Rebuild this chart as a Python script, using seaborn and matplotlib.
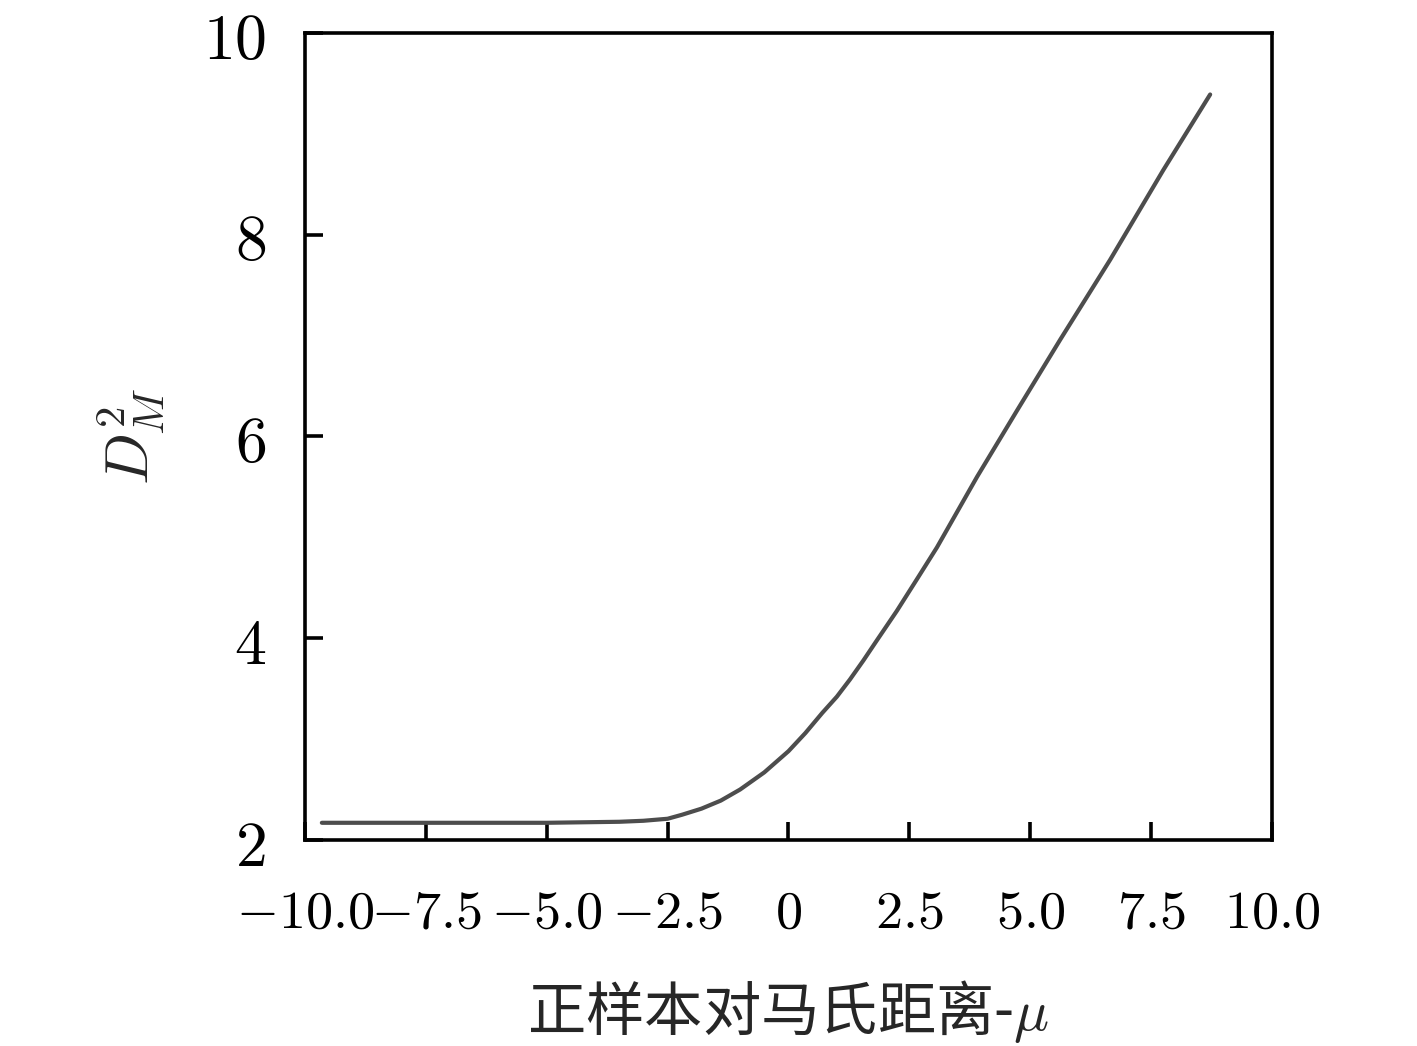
import matplotlib
matplotlib.use('Agg')
import matplotlib.pyplot as plt
import seaborn as sns
import pandas as pd

# values
mu_dist = [-9.65, -7.5, -5.0, -3.5, -3.0, -2.5, -2.2, -1.8, -1.4, -1.0, -0.5, 0.0,
           0.35, 0.7, 1.0, 1.27, 1.55, 1.83, 2.24, 2.65, 3.07, 3.9, 4.73, 5.62,
           6.65, 7.75, 8.72]
d_m2 = [2.17, 2.17, 2.17, 2.18, 2.19, 2.21, 2.25, 2.31, 2.39, 2.50, 2.67, 2.88,
        3.06, 3.26, 3.42, 3.59, 3.78, 3.98, 4.27, 4.58, 4.90, 5.60, 6.26, 6.96,
        7.75, 8.64, 9.39]

x_ticks = [-10.0, -7.5, -5.0, -2.5, 0, 2.5, 5.0, 7.5, 10.0]
x_ticklabels = ['$-10.0$', '$-7.5$', '$-5.0$', '$-2.5$', '$0$', '$2.5$', '$5.0$', '$7.5$', '$10.0$']
y_ticks = [2, 4, 6, 8, 10]
y_ticklabels = ['$2$', '$4$', '$6$', '$8$', '$10$']

sns.set_style('ticks')
plt.rcParams['font.family'] = ['Noto Sans CJK SC', 'DejaVu Sans']
plt.rcParams['mathtext.fontset'] = 'cm'

df = pd.DataFrame({'x': mu_dist, 'y': d_m2})

fig = plt.figure(figsize=(14.17, 10.46), dpi=100)
ax = fig.add_axes([0.2152, 0.197, 0.6825, 0.7715])
sns.lineplot(data=df, x='x', y='y', ax=ax, color='#4d4d4d', linewidth=3.0)

ax.set_xlim(-10, 10)
ax.set_ylim(2, 10)
ax.set_xticks(x_ticks)
ax.set_xticklabels(x_ticklabels)
ax.set_yticks(y_ticks)
ax.set_yticklabels(y_ticklabels)
ax.tick_params(axis='both', direction='in', length=13, width=2.6, colors='black')
ax.tick_params(axis='x', pad=32, labelsize=39)
ax.tick_params(axis='y', pad=28, labelsize=46)
for s in ax.spines.values():
    s.set_linewidth(2.6)
    s.set_color('black')

ax.set_xlabel('正样本对马氏距离-$\\mu$', fontsize=42, labelpad=28)
ax.set_ylabel('$D_M^2$', fontsize=44, labelpad=26)

fig.savefig('out.png', dpi=100, facecolor='white')
